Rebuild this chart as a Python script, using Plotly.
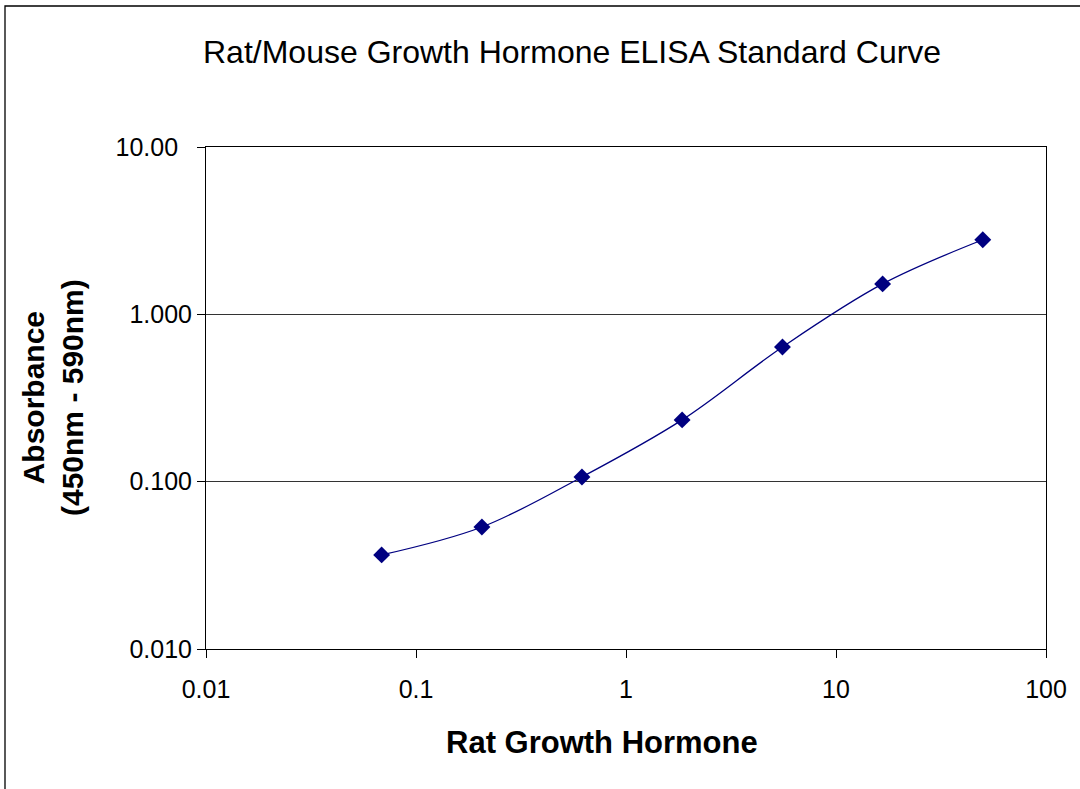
import plotly.graph_objects as go

# Data
concentration = [0.0686, 0.206, 0.617, 1.85, 5.56, 16.67, 50.0]
absorbance = [0.0365, 0.0536, 0.1067, 0.234, 0.638, 1.52, 2.79]

x_tickvals = [0.01, 0.1, 1, 10, 100]
x_ticktext = ["0.01", "0.1", "1", "10", "100"]
y_tickvals = [0.01, 0.1, 1, 10]
y_ticktext = ["0.010", "0.100", "1.000", "10.00\u00a0\u00a0"]

title_text = "Rat/Mouse Growth Hormone ELISA Standard Curve"
x_title = "Rat Growth Hormone"
y_title = "Absorbance<br>(450nm - 590nm)"

FONT = "Liberation Sans, Arial, sans-serif"

fig = go.Figure()
fig.add_trace(go.Scatter(
    x=concentration, y=absorbance,
    mode="lines+markers",
    line=dict(color="#000080", width=1.3, shape="spline"),
    marker=dict(symbol="diamond", size=13, color="#000080"),
    showlegend=False,
))

L, R, T, B = 206, 1046, 147, 649
W, H = 1080, 789
pw, ph = R - L, B - T

def px(x):
    return (x - L) / pw

def py(y):
    return (B - y) / ph

fig.update_layout(
    width=W, height=H,
    margin=dict(l=L, r=W - R, t=T, b=H - B, pad=0),
    paper_bgcolor="white", plot_bgcolor="white",
    font=dict(family=FONT, color="black", size=25),
    xaxis=dict(
        type="log", range=[-2, 2],
        tickvals=x_tickvals, ticktext=x_ticktext,
        ticks="outside", ticklen=8, tickcolor="black", tickwidth=1,
        showline=True, linecolor="black", linewidth=1, mirror=True,
        showgrid=False, zeroline=False,
        tickfont=dict(size=25, family=FONT),
        ticklabelstandoff=10,
    ),
    yaxis=dict(
        type="log", range=[-2, 1],
        tickvals=y_tickvals, ticktext=y_ticktext,
        ticks="outside", ticklen=8, tickcolor="black", tickwidth=1,
        showline=True, linecolor="black", linewidth=1, mirror=True,
        showgrid=True, gridcolor="#333333", gridwidth=1,
        zeroline=False,
        tickfont=dict(size=25, family=FONT),
        ticklabelstandoff=0,
    ),
    annotations=[
        dict(text=title_text, x=px(572), y=py(52), xref="paper", yref="paper",
             showarrow=False, xanchor="center", yanchor="middle",
             font=dict(size=32, family=FONT, color="black")),
        dict(text="<b>" + x_title + "</b>", x=px(602), y=py(742), xref="paper", yref="paper",
             showarrow=False, xanchor="center", yanchor="middle",
             font=dict(size=31, family=FONT, color="black")),
        dict(text="<b>" + y_title + "</b>", x=px(53), y=py(398), xref="paper", yref="paper",
             showarrow=False, xanchor="center", yanchor="middle", textangle=-90,
             font=dict(size=30, family=FONT, color="black")),
    ],
    shapes=[
        dict(type="rect", xref="paper", yref="paper",
             x0=px(5), y0=py(900), x1=px(1200), y1=py(6),
             line=dict(color="black", width=1.3), fillcolor="rgba(0,0,0,0)", layer="below"),
    ],
)

fig.write_html(
    "out.html",
    config={"displayModeBar": False},
    post_script="document.body.style.margin='0';document.body.style.overflow='hidden';",
)
